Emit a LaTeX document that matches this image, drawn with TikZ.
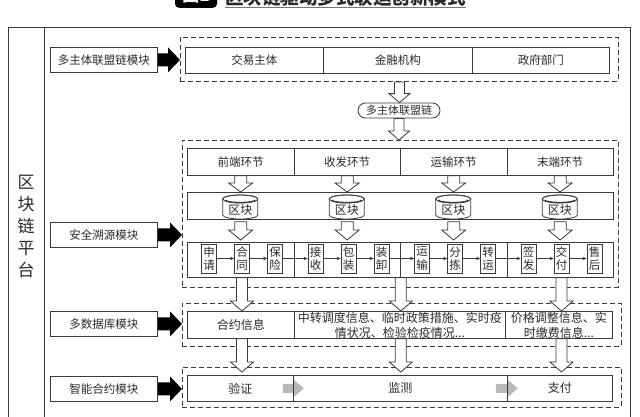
\documentclass[tikz,border=0pt]{standalone}
\usepackage{fontspec}
\setmainfont{Noto Sans CJK SC}
\usetikzlibrary{calc,arrows.meta,backgrounds}
\definecolor{linec}{HTML}{3A3A3A}
\definecolor{txtc}{HTML}{2A2A2A}
\definecolor{arrgray}{HTML}{B8B8B8}
\newcommand\mycyl[3]{%
  \draw[ln,fill=white] (#2-17.5,#3-8) -- (#2-17.5,#3+8)
     arc[start angle=180,end angle=0,x radius=17.5,y radius=4]
     -- (#2+17.5,#3-8)
     arc[start angle=0,end angle=-180,x radius=17.5,y radius=4] -- cycle;
  \draw[ln] (#2,#3-8) ellipse[x radius=17.5,y radius=4];
  \draw[linec,line width=1.3pt] (#2-15,#3-7) arc[start angle=180,end angle=0,x radius=15,y radius=2.5];
  \node[inner sep=0pt,text=txtc,font=\fontsize{12}{12}\selectfont] (#1) at (#2,#3+3) {区块};}
\begin{document}
\begin{tikzpicture}[x=1pt,y=-1pt,
  ln/.style={draw=linec,line width=0.8pt},
  bx/.style={ln,rectangle,inner sep=0pt,anchor=north west,text=txtc,font=\fontsize{11.5}{13}\selectfont},
  frm/.style={draw=linec,line width=0.9pt,dash pattern=on 5pt off 3pt,rectangle,inner sep=0pt,anchor=north west},
  sbox/.style={ln,rectangle,inner sep=0pt,minimum width=15,minimum height=29,align=center,text=txtc,font=\fontsize{11.5}{13.5}\selectfont},
  linkarr/.style={draw=linec,line width=0.6pt,-{Stealth[length=4pt,width=3.5pt]}},
  hollowarr/.style={draw=linec,line width=0.8pt,fill=white,line join=miter},
  hdown/.style n args={3}{to path={let \p1=(\tikztostart),\p2=(\tikztotarget) in
     (\x1-#1pt,\y1) -- (\x1-#1pt,\y2+#3pt) -- (\x1-#2pt,\y2+#3pt) -- (\x1,\y2)
     -- (\x1+#2pt,\y2+#3pt) -- (\x1+#1pt,\y2+#3pt) -- (\x1+#1pt,\y1) -- cycle}},
  hright/.style n args={3}{to path={let \p1=(\tikztostart),\p2=(\tikztotarget) in
     (\x1,\y1-#1pt) -- (\x2-#3pt,\y1-#1pt) -- (\x2-#3pt,\y1-#2pt) -- (\x2,\y1)
     -- (\x2-#3pt,\y1+#2pt) -- (\x2-#3pt,\y1+#1pt) -- (\x1,\y1+#1pt) -- cycle}},
]
\useasboundingbox (0,0) rectangle (640,416);
\begin{pgfonlayer}{background}
\fill[white] (0,0) rectangle (640,416);
\end{pgfonlayer}

% title (cut by the top edge)
\node[fill=black,rounded corners=4pt,text=white,font=\fontsize{17}{17}\bfseries\selectfont,
      minimum width=42,minimum height=24,inner sep=0pt,anchor=south] (fig) at (196,8) {图1};
\node[anchor=base west,inner sep=0pt,text=txtc,font=\fontsize{18.5}{18.5}\bfseries\selectfont] (ttl) at (225,4) {区块链驱动多式联运创新模式};
\draw[linec!70,line width=1pt] ($(ttl.base west)+(0,3.5)$) -- ($(ttl.base east)+(0,3.5)$);

% platform frame
\draw[linec,line width=1pt] (8,430) -- (8,27) -- (630,27) -- (630,430);
\draw[linec,line width=1pt] (44,27) -- (44,430);
\node[inner sep=0pt,align=center,text=txtc,font=\fontsize{17}{22}\selectfont] (plat) at (26,226) {区\\块\\链\\平\\台};

% dashed frames
\node[frm,minimum width=438,minimum height=44] (f1) at (180,37) {};
\node[frm,minimum width=436,minimum height=147] (f2) at (182,140) {};
\node[frm,minimum width=439,minimum height=43] (f3) at (182,303) {};
\node[frm,minimum width=439,minimum height=40] (f4) at (182,367) {};

% modules
\node[bx,minimum width=107,minimum height=25] (m1) at (50,47) {多主体联盟链模块};
\node[bx,minimum width=107,minimum height=25] (m2) at (50,222) {安全溯源模块};
\node[bx,minimum width=107,minimum height=25] (m3) at (50,311) {多数据库模块};
\node[bx,minimum width=107,minimum height=25] (m4) at (50,376) {智能合约模块};

% top row
\node[bx,minimum width=138,minimum height=26] (t1) at (185,47) {交易主体};
\node[bx,minimum width=149,minimum height=26] (t2) at (323,47) {金融机构};
\node[bx,minimum width=137,minimum height=26] (t3) at (472,47) {政府部门};

% pill
\node[ln,rounded corners=7.5pt,minimum width=82,minimum height=15,inner sep=0pt,text=txtc,
      font=\fontsize{11}{11}\selectfont] (pill) at (399,110.5) {多主体联盟链};

% stage row
\node[bx,minimum width=106.5,minimum height=27] (s1) at (187,148) {前端环节};
\node[bx,minimum width=106.5,minimum height=27] (s2) at (293.5,148) {收发环节};
\node[bx,minimum width=106.5,minimum height=27] (s3) at (400,148) {运输环节};
\node[bx,minimum width=106.5,minimum height=27] (s4) at (506.5,148) {末端环节};

% block row
\node[bx,minimum width=426,minimum height=27] (blk) at (187,192) {};
\mycyl{k1}{240.25}{207}
\mycyl{k2}{346.75}{207}
\mycyl{k3}{453.25}{207}
\mycyl{k4}{559.75}{207}

% process row
\node[bx,minimum width=106.5,minimum height=35] (p1) at (187,242) {};
\node[bx,minimum width=106.5,minimum height=35] (p2) at (293.5,242) {};
\node[bx,minimum width=106.5,minimum height=35] (p3) at (400,242) {};
\node[bx,minimum width=106.5,minimum height=35] (p4) at (506.5,242) {};
\node[sbox] (b11) at (209,258.5) {申\\请};
\node[sbox] (b12) at (242,258.5) {合\\同};
\node[sbox] (b13) at (275,258.5) {保\\险};
\node[sbox] (b21) at (315.5,258.5) {接\\收};
\node[sbox] (b22) at (348.5,258.5) {包\\装};
\node[sbox] (b23) at (381.5,258.5) {装\\卸};
\node[sbox] (b31) at (422,258.5) {运\\输};
\node[sbox] (b32) at (455,258.5) {分\\拣};
\node[sbox] (b33) at (488,258.5) {转\\运};
\node[sbox] (b41) at (528.5,258.5) {签\\发};
\node[sbox] (b42) at (561.5,258.5) {交\\付};
\node[sbox] (b43) at (594.5,258.5) {售\\后};
\foreach \a/\b in {b11/b12,b12/b13,b13/b21,b21/b22,b22/b23,b23/b31,b31/b32,b32/b33,b33/b41,b41/b42,b42/b43}
  \draw[linkarr] (\a.east) -- (\b.west);

% database row
\node[bx,minimum width=107,minimum height=27,font=\fontsize{12}{15}\selectfont] (d1) at (187,311) {合约信息};
\node[bx,minimum width=211,minimum height=27,align=center,font=\fontsize{12}{15}\selectfont] (d2) at (294,311) {中转调度信息、临时政策措施、实时疫\\情状况、检验检疫情况...};
\node[bx,minimum width=107,minimum height=27,align=center,font=\fontsize{12}{15}\selectfont] (d3) at (505,311) {价格调整信息、实\\时缴费信息...};

% contract row
\node[bx,minimum width=106,minimum height=26,font=\fontsize{12}{12}\selectfont] (c1) at (187,375) {验证};
\node[bx,minimum width=214,minimum height=26,font=\fontsize{12}{12}\selectfont] (c2) at (293,375) {监测};
\node[bx,minimum width=105,minimum height=26,font=\fontsize{12}{12}\selectfont] (c3) at (507,375) {支付};
\begin{pgfonlayer}{background}
\fill[arrgray] ($(c1.east)+(-11,0)$) to[hright={4.5}{8.5}{10}] ($(c1.east)+(10,0)$);
\fill[arrgray] ($(c2.east)+(-12,0)$) to[hright={4.5}{8.5}{10}] ($(c2.east)+(10,0)$);
\end{pgfonlayer}

% black module arrows
\fill[black] (m1.east) to[hright={6.5}{12.5}{12}] (m1.east -| f1.west);
\fill[black] (m2.east) to[hright={6.5}{12.5}{12}] (m2.east -| f2.west);
\fill[black] (m3.east) to[hright={6.5}{12.5}{12}] (m3.east -| f3.west);
\fill[black] (m4.east) to[hright={6.5}{12.5}{12}] (m4.east -| f4.west);

% hollow arrows
\draw[hollowarr] (f1.south) to[hdown={5}{10.5}{9}] (pill.north);
\draw[hollowarr] (pill.south) to[hdown={5}{10.5}{9}] (f2.north);
\foreach \s in {s1,s2,s3,s4}{
  \draw[hollowarr] (\s.south) to[hdown={6}{12}{9}] (\s.south |- blk.north);
  \draw[hollowarr] ($(\s.south |- blk.south)+(0,2)$) to[hdown={6}{12}{10}] ($(\s.south |- p1.north)+(0,-2)$);
}
\draw[hollowarr] (b12.south |- p1.south) to[hdown={5.5}{11.5}{10}] (b12.south |- d1.north);
\draw[hollowarr] (p2.south east) to[hdown={5.5}{11.5}{10}] (p2.south east |- d2.north);
\draw[hollowarr] (b42.south |- p4.south) to[hdown={5.5}{11.5}{10}] (b42.south |- d3.north);
\draw[hollowarr] (b12.south |- d1.south) to[hdown={5.5}{11.5}{10}] ($(b12.south |- c1.north)+(0,-3)$);
\draw[hollowarr] (p2.south east |- d2.south) to[hdown={5.5}{11.5}{10}] ($(p2.south east |- c2.north)+(0,-3)$);
\draw[hollowarr] (b42.south |- d3.south) to[hdown={5.5}{11.5}{10}] ($(b42.south |- c3.north)+(0,-3)$);
\end{tikzpicture}
\end{document}
